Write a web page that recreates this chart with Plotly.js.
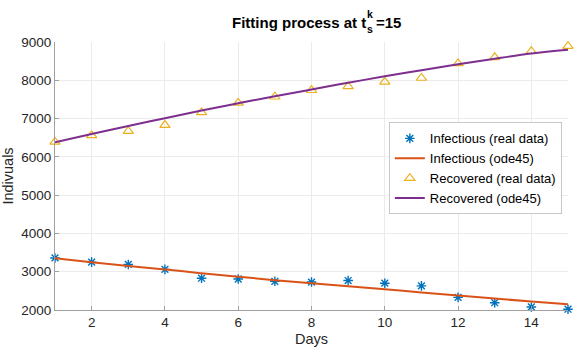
<!DOCTYPE html>
<html>
<head>
<meta charset="utf-8">
<script src="https://cdn.plot.ly/plotly-3.0.1.min.js"></script>
<style>
  html, body { margin: 0; padding: 0; background: #fff; }
  #chart { width: 581px; height: 352px; }
</style>
</head>
<body>
<div id="chart"></div>
<script>
// days of the fitting window
var days = [1, 2, 3, 4, 5, 6, 7, 8, 9, 10, 11, 12, 13, 14, 15];

var infReal = [3360, 3250, 3190, 3060, 2830, 2810, 2750, 2730, 2770, 2700, 2630, 2330, 2190, 2080, 2020];
var recReal = [6390, 6560, 6670, 6830, 7160, 7410, 7570, 7740, 7840, 7960, 8060, 8440, 8600, 8760, 8890];

// ode45 solution sampled at the same days
var infOde = [3350, 3250, 3150, 3060, 2960, 2870, 2780, 2700, 2620, 2540, 2460, 2380, 2300, 2220, 2150];
var recOde = [6380, 6595, 6805, 7010, 7210, 7400, 7585, 7760, 7935, 8105, 8265, 8420, 8565, 8700, 8800];

var FONT = 'Liberation Sans, Arial, sans-serif';

var traces = [
  {
    x: days, y: infReal,
    name: 'Infectious (real data)',
    mode: 'markers', type: 'scatter', cliponaxis: false,
    marker: { symbol: 'asterisk-open', size: 8, color: '#0072BD', line: { color: '#0072BD', width: 1.4 } }
  },
  {
    x: days, y: infOde,
    name: 'Infectious (ode45)',
    mode: 'lines', type: 'scatter',
    line: { color: '#D95319', width: 2, shape: 'spline' }
  },
  {
    x: days, y: recReal,
    name: 'Recovered (real data)',
    mode: 'markers', type: 'scatter', cliponaxis: false,
    marker: { symbol: 'triangle-up-open', size: 9, color: '#EDB120', line: { color: '#EDB120', width: 1.2 } }
  },
  {
    x: days, y: recOde,
    name: 'Recovered (ode45)',
    mode: 'lines', type: 'scatter',
    line: { color: '#7E2F8E', width: 2, shape: 'spline' }
  }
];

// title pieces: t with stacked sub/superscript
function titlePart(text, x, y, size, anchor) {
  return {
    text: '<b>' + text + '</b>', xref: 'paper', yref: 'paper', x: x, y: y,
    xanchor: anchor, yanchor: 'middle', showarrow: false, borderpad: 0,
    font: { family: FONT, size: size, color: '#000' }
  };
}

var layout = {
  width: 581, height: 352,
  margin: { l: 55, r: 13, t: 42, b: 42 },
  paper_bgcolor: '#fff', plot_bgcolor: '#fff',
  font: { family: FONT, size: 13, color: '#262626' },
  xaxis: {
    range: [1, 15], tickvals: [2, 4, 6, 8, 10, 12, 14],
    showgrid: true, gridcolor: '#ebebeb', zeroline: false,
    showline: true, linecolor: '#a0a0a0', linewidth: 1,
    ticks: 'inside', ticklen: 4, tickcolor: '#a0a0a0',
    tickfont: { size: 13.5 },
    title: { text: 'Days', font: { size: 14.5 }, standoff: 4 }
  },
  yaxis: {
    range: [2000, 9000], dtick: 1000,
    showgrid: true, gridcolor: '#ebebeb', zeroline: false,
    showline: true, linecolor: '#a0a0a0', linewidth: 1,
    ticks: 'inside', ticklen: 4, tickcolor: '#a0a0a0',
    tickfont: { size: 13.5 },
    title: { text: 'Indivuals', font: { size: 14.5 }, standoff: 4 }
  },
  legend: {
    x: 0.988, xanchor: 'right', y: 0.70, yanchor: 'top',
    bgcolor: '#fff', bordercolor: '#c8c8c8', borderwidth: 1,
    font: { size: 13, color: '#000' },
    itemwidth: 30, tracegroupgap: 0
  },
  annotations: [
    titlePart('Fitting process at t', 0.6076, 1.0746, 15, 'right'),
    titlePart('k', 0.6063, 1.104, 10.5, 'left'),
    titlePart('s', 0.6063, 1.047, 10.5, 'left'),
    titlePart('=15', 0.6238, 1.0746, 15, 'left')
  ],
  showlegend: true
};

Plotly.newPlot('chart', traces, layout, { displayModeBar: false, staticPlot: true });
</script>
</body>
</html>
